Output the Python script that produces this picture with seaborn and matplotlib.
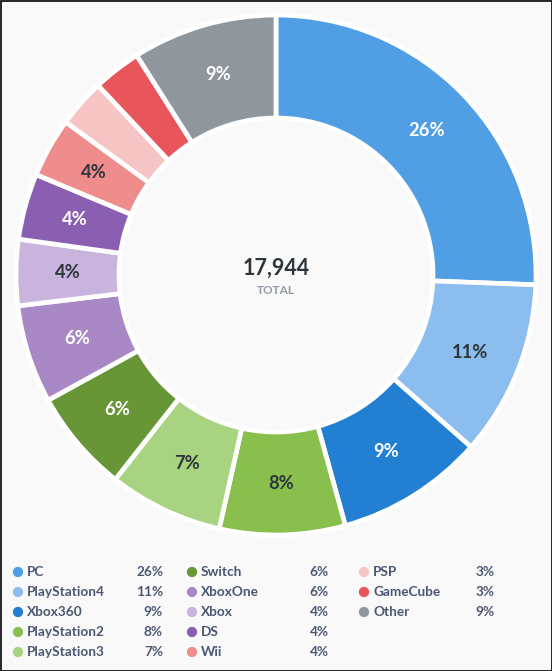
import matplotlib
matplotlib.use('Agg')
import matplotlib.pyplot as plt
import seaborn as sns

# Data
platforms = ['PC', 'PlayStation4', 'Xbox360', 'PlayStation2', 'PlayStation3', 'Switch',
             'XboxOne', 'Xbox', 'DS', 'Wii', 'PSP', 'GameCube', 'Other']
counts = [4594, 1956, 1651, 1400, 1274, 1148, 1095, 736, 736, 664, 538, 538, 1614]
colors = ['#509EE3', '#8BBDEE', '#227FD2', '#88BF4D', '#A8D481', '#689636',
          '#A989C5', '#C8B4DC', '#8A5EB0', '#EF8C8C', '#F7C4C4', '#E8555A', '#8F979D']
label_colors = ['white', '#2E353B', 'white', '#2E353B', '#2E353B', 'white',
                'white', '#2E353B', 'white', '#2E353B', '#2E353B', '#2E353B', 'white']
total = sum(counts)

sns.set_theme(style='white')
plt.rcParams['font.family'] = ['Lato', 'DejaVu Sans']

W, H = 552, 671
fig = plt.figure(figsize=(W / 100, H / 100), dpi=100, facecolor='#F9F9F9')

# donut, axes in pixel units
cx, cy, half = 276, 275, 272
ax = fig.add_axes([(cx - half) / W, (H - cy - half) / H, 2 * half / W, 2 * half / H])
ax.patch.set_visible(False)

r_out, r_in = 260, 157
wedges, texts, autotexts = ax.pie(
    counts, colors=colors, radius=r_out, startangle=90, counterclock=False,
    autopct=lambda p: f'{p:.0f}%' if p >= 3.5 else '',
    pctdistance=(r_out + r_in) / 2 / r_out,
    wedgeprops=dict(width=r_out - r_in, edgecolor='white', linewidth=3.4),
    textprops=dict(fontsize=13.2, fontweight='bold'))
for t, c in zip(autotexts, label_colors):
    t.set_color(c)
ax.set_xlim(-half, half)
ax.set_ylim(-half, half)
ax.set_aspect('equal')
ax.axis('off')

ax.text(0, 7, f'{total:,}', ha='center', va='center', fontsize=15.5,
        fontweight='bold', color='#2E353B')
ax.text(0, -16, 'TOTAL', ha='center', va='center', fontsize=8.5,
        fontweight='bold', color='#949AAB')

# legend, axes in pixel units (y measured from top)
lax = fig.add_axes([0, 0, 1, 1])
lax.patch.set_visible(False)
lax.set_xlim(0, W)
lax.set_ylim(H, 0)
lax.axis('off')
col_x = [18, 192, 364]
pct_x = [163, 329, 495]
row_y0, row_dy = 572, 20
for i, (name, cnt, col) in enumerate(zip(platforms, counts, colors)):
    c, r = divmod(i, 5)
    y = row_y0 + r * row_dy
    lax.scatter(col_x[c], y, s=55, color=col, edgecolor='none')
    lax.text(col_x[c] + 9, y, name, ha='left', va='center', fontsize=9.8,
             fontweight='bold', color='#4C5773')
    lax.text(pct_x[c], y, f'{cnt / total * 100:.0f}%', ha='right', va='center',
             fontsize=9.8, fontweight='bold', color='#4C5773')

# outer frame
lax.add_patch(plt.Rectangle((0.5, 0.5), W - 1, H - 1, fill=False,
                            edgecolor='black', linewidth=1.2))

fig.savefig('out.png', dpi=100, facecolor=fig.get_facecolor())
